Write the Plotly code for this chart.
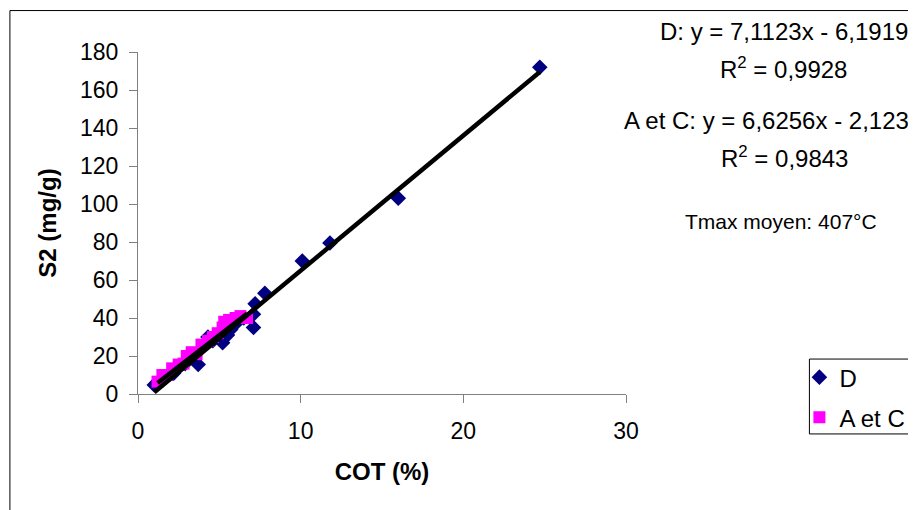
import plotly.graph_objects as go

# ---- data ----
d_cot = [1.0, 1.6, 2.2, 2.9, 3.7, 4.3, 4.6, 5.2, 5.5, 5.7, 6.0, 6.5, 7.1, 7.1, 7.2, 7.8, 10.1, 11.8, 16.0, 24.7]
d_s2 = [4.8, 8.5, 11.0, 16.0, 15.5, 30.0, 28.0, 27.0, 31.0, 34.0, 37.0, 40.0, 35.0, 42.0, 47.5, 53.0, 70.0, 79.5, 103.0, 172.0]

ac_cot = [1.2, 1.5, 1.8, 2.1, 2.5, 2.8, 3.0, 3.3, 3.6, 3.9, 4.3, 4.6, 4.9, 5.2, 5.3, 5.6, 6.0, 6.3, 6.7]
ac_s2 = [6.5, 10.0, 10.0, 13.5, 15.5, 16.0, 20.0, 22.0, 21.0, 26.0, 28.0, 30.0, 32.0, 35.0, 38.0, 39.0, 40.0, 41.0, 40.0]

d_slope, d_intercept = 7.1123, -6.1919
ac_slope, ac_intercept = 6.6256, -2.123

x_ticks = [0, 10, 20, 30]
y_ticks = [0, 20, 40, 60, 80, 100, 120, 140, 160, 180]

FONT = "Liberation Sans, Arial, sans-serif"
OFF = 8  # page body margin
W, H = 916 - OFF, 510 - OFF
# plot area in screen pixels: x 138..625.7, y 51.5..394
L, T = 138 - OFF, 51.5 - OFF
R, B = W - (625.7 - OFF), H - (394 - OFF)
PW, PH = W - L - R, H - T - B


def px(x):
    """screen x pixel -> paper coordinate"""
    return (x - OFF - L) / PW


def py(y):
    """screen y pixel -> paper coordinate"""
    return (H - B - (y - OFF)) / PH


fig = go.Figure()

fig.add_trace(go.Scatter(
    x=d_cot, y=d_s2, mode="markers", name="D", legendgroup="D",
    marker=dict(symbol="diamond", size=12, color="#000080", line=dict(width=0)),
    cliponaxis=False,
))
fig.add_trace(go.Scatter(
    x=ac_cot, y=ac_s2, mode="markers", name="A et C", legendgroup="AC",
    marker=dict(symbol="square", size=12, color="#FF00FF", line=dict(width=0)),
    cliponaxis=False,
))

d_x = [min(d_cot), max(d_cot)]
fig.add_trace(go.Scatter(
    x=d_x, y=[d_slope * v + d_intercept for v in d_x], mode="lines",
    line=dict(color="black", width=4.5), showlegend=False, hoverinfo="skip",
))
ac_x = [min(ac_cot), max(ac_cot)]
fig.add_trace(go.Scatter(
    x=ac_x, y=[ac_slope * v + ac_intercept for v in ac_x], mode="lines",
    line=dict(color="black", width=4.5), showlegend=False, hoverinfo="skip",
))

axis_common = dict(
    showgrid=False, zeroline=False, showline=True, linecolor="#808080", linewidth=1,
    ticks="outside", tickcolor="#808080", ticklen=8, tickwidth=1,
    tickfont=dict(family=FONT, size=23, color="black"),
)

fig.update_xaxes(
    range=[0, 30], tickvals=x_ticks, ticktext=[str(v) for v in x_ticks],
    ticklabelstandoff=8,
    title=dict(text="<b>COT (%)</b>", font=dict(family=FONT, size=24, color="black"), standoff=20),
    **axis_common,
)
fig.update_yaxes(
    range=[0, 180], tickvals=y_ticks, ticktext=[str(v) for v in y_ticks],
    ticklabelstandoff=6,
    title=dict(text="<b>S2 (mg/g)</b>", font=dict(family=FONT, size=24, color="black"), standoff=16),
    **axis_common,
)

annots = [
    ("D: y = 7,1123x - 6,1919", 784, 31, 24),
    ("R<sup>2</sup> = 0,9928", 783, 68, 24),
    ("A et C: y = 6,6256x - 2,123", 766, 120, 24),
    ("R<sup>2</sup> = 0,9843", 784, 157, 24),
    ("Tmax moyen: 407°C", 781, 221, 21),
]
for text, ax_, ay_, fs in annots:
    fig.add_annotation(
        text=text, xref="paper", yref="paper", x=px(ax_), y=py(ay_),
        xanchor="center", yanchor="middle", showarrow=False,
        font=dict(family=FONT, size=fs, color="black"),
    )

# outer chart frame
fig.add_shape(type="rect", xref="paper", yref="paper",
              x0=px(10), x1=px(930), y0=py(560), y1=py(10),
              line=dict(color="black", width=1), fillcolor="rgba(0,0,0,0)", layer="below")
fig.add_shape(type="line", xref="paper", yref="paper",
              x0=px(915), x1=px(915), y0=py(560), y1=py(10),
              line=dict(color="#A0A0A0", width=1))
# legend frame
fig.add_shape(type="rect", xref="paper", yref="paper",
              x0=px(809), x1=px(930), y0=py(434), y1=py(359),
              line=dict(color="black", width=1), fillcolor="white", layer="below")

fig.update_layout(
    width=W, height=H,
    margin=dict(l=L, r=R, t=T, b=B, autoexpand=False),
    paper_bgcolor="white", plot_bgcolor="white",
    font=dict(family=FONT, size=24, color="black"),
    showlegend=True,
    legend=dict(
        x=px(799), y=py(355), xanchor="left", yanchor="top",
        borderwidth=0, bgcolor="rgba(0,0,0,0)",
        font=dict(family=FONT, size=24, color="black"),
        traceorder="grouped", tracegroupgap=6, itemwidth=30,
    ),
)

fig.write_html("out.html")
